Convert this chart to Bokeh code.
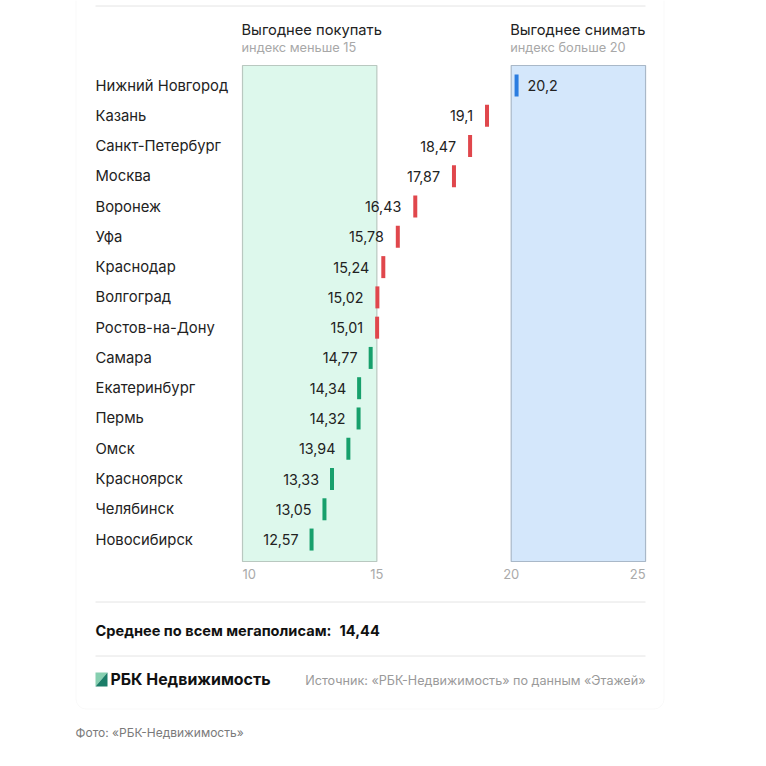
from bokeh.plotting import figure
from bokeh.models import Range1d, ColumnDataSource, BoxAnnotation
from bokeh.core.properties import value
from bokeh.embed import file_html
from bokeh.resources import INLINE

# ---- data ----
cities = ["Нижний Новгород", "Казань", "Санкт-Петербург", "Москва", "Воронеж", "Уфа",
          "Краснодар", "Волгоград", "Ростов-на-Дону", "Самара", "Екатеринбург", "Пермь",
          "Омск", "Красноярск", "Челябинск", "Новосибирск"]
index_values = [20.2, 19.1, 18.47, 17.87, 16.43, 15.78, 15.24, 15.02, 15.01, 14.77,
                14.34, 14.32, 13.94, 13.33, 13.05, 12.57]
tick_values = [10, 15, 20, 25]
tick_labels = ["10", "15", "20", "25"]
buy_zone = [10, 15]
rent_zone = [20, 25]
average_value = 14.44

FONT = "Inter"
W = H = 750

# layout helpers (page pixel -> data coordinates)
X10 = 242.0
SX = 26.87
R0 = 85.0
RS = 30.27


def dx(px):
    return 10 + (px - X10) / SX


def dy(py):
    return (py - R0) / RS


p = figure(width=W, height=H, output_backend="svg", toolbar_location=None,
           x_range=Range1d(dx(0), dx(W)), y_range=Range1d(dy(H), dy(0)),
           min_border=0, min_border_left=0, min_border_right=0,
           min_border_top=0, min_border_bottom=0)
p.axis.visible = False
p.grid.visible = False
p.outline_line_color = None
p.background_fill_color = "white"
p.border_fill_color = "white"

# card
p.add_layout(BoxAnnotation(left=dx(75.5), right=dx(663.5), top=dy(-30), bottom=dy(708.5),
                           fill_color="white", line_color="#ebebeb", line_width=1,
                           border_radius=10, level="underlay"))

# separators
p.segment(x0=[dx(95)] * 3, x1=[dx(645)] * 3, y0=[dy(5.5), dy(601.5), dy(655.5)],
          y1=[dy(5.5), dy(601.5), dy(655.5)], line_color="#e4e4e4", line_width=1)

# zones
p.quad(left=[buy_zone[0]], right=[buy_zone[1]], top=[dy(65)], bottom=[dy(561)],
       fill_color="#ddf8ec", line_color="#b9c8c0", line_width=1.2)
p.quad(left=[rent_zone[0]], right=[rent_zone[1]], top=[dy(65)], bottom=[dy(561)],
       fill_color="#d4e7fb", line_color="#a9b8c8", line_width=1.2)

# zone titles
p.text(x=[buy_zone[0], rent_zone[0]], y=[dy(29), dy(29)],
       text=["Выгоднее покупать", "Выгоднее снимать"],
       text_font=value(FONT), text_font_size="14.7px", text_color="#222222",
       text_align="left", text_baseline="middle", x_offset=-1)
p.text(x=[buy_zone[0], rent_zone[0]], y=[dy(47), dy(47)],
       text=["индекс меньше 15", "индекс больше 20"],
       text_font=value(FONT), text_font_size="12.8px", text_color="#a8a8a8",
       text_align="left", text_baseline="middle", x_offset=-1)

# ticks
p.text(x=tick_values, y=[dy(573)] * 4, text=tick_labels,
       text_font=value(FONT), text_font_size="13px", text_color="#aaaaaa",
       text_align=["left", "center", "center", "right"], text_baseline="middle")

# rows
rows = list(range(len(cities)))
colors = []
aligns = []
xoffs = []
for v in index_values:
    if v > rent_zone[0]:
        colors.append("#2b7de0")
        aligns.append("left")
        xoffs.append(11)
    elif v >= buy_zone[1]:
        colors.append("#e0474c")
        aligns.append("right")
        xoffs.append(-14)
    else:
        colors.append("#17a06c")
        aligns.append("right")
        xoffs.append(-13)

src = ColumnDataSource(dict(
    city=cities, val=index_values, row=rows, color=colors, align=aligns, xoff=xoffs,
    label=[str(v).replace(".", ",") for v in index_values],
    cx=[dx(95)] * len(cities),
))

p.text(x="cx", y="row", text="city", source=src, text_font=value(FONT),
       text_font_size="14.8px", text_color="#222222", text_align="left",
       text_baseline="middle")
p.rect(x="val", y="row", width=4, height=22, width_units="screen", height_units="screen",
       fill_color="color", line_color=None, source=src)
p.text(x="val", y="row", text="label", source=src, text_font=value(FONT),
       text_font_size="14.3px", text_color="#222222", text_align="align",
       x_offset="xoff", text_baseline="middle")

# average
p.text(x=[dx(95)], y=[dy(630)], text=["Среднее по всем мегаполисам:"],
       text_font=value(FONT), text_font_size="14.6px", text_font_style="bold",
       text_color="#111111", text_align="left", text_baseline="middle")
p.text(x=[dx(339)], y=[dy(630)], text=[str(average_value).replace(".", ",")],
       text_font=value(FONT), text_font_size="14.6px", text_font_style="bold",
       text_color="#111111", text_align="left", text_baseline="middle")

# logo
p.patch(x=[dx(95), dx(107), dx(95)], y=[dy(672), dy(672), dy(686)], fill_color="#86cfb0",
        line_color=None)
p.patch(x=[dx(107), dx(107), dx(95)], y=[dy(672), dy(686), dy(686)], fill_color="#1b7d68",
        line_color=None)
p.text(x=[dx(110)], y=[dy(679)], text=["РБК Недвижимость"],
       text_font=value(FONT), text_font_size="15.9px", text_font_style="bold",
       text_color="#111111", text_align="left", text_baseline="middle")
p.text(x=[dx(645)], y=[dy(680)], text=["Источник: «РБК-Недвижимость» по данным «Этажей»"],
       text_font=value(FONT), text_font_size="12.6px", text_color="#9a9a9a",
       text_align="right", text_baseline="middle")

p.text(x=[dx(75)], y=[dy(732)], text=["Фото: «РБК-Недвижимость»"],
       text_font=value(FONT), text_font_size="12px", text_color="#7a7a7a",
       text_align="left", text_baseline="middle")

open("out.html", "w").write(file_html(p, INLINE))
